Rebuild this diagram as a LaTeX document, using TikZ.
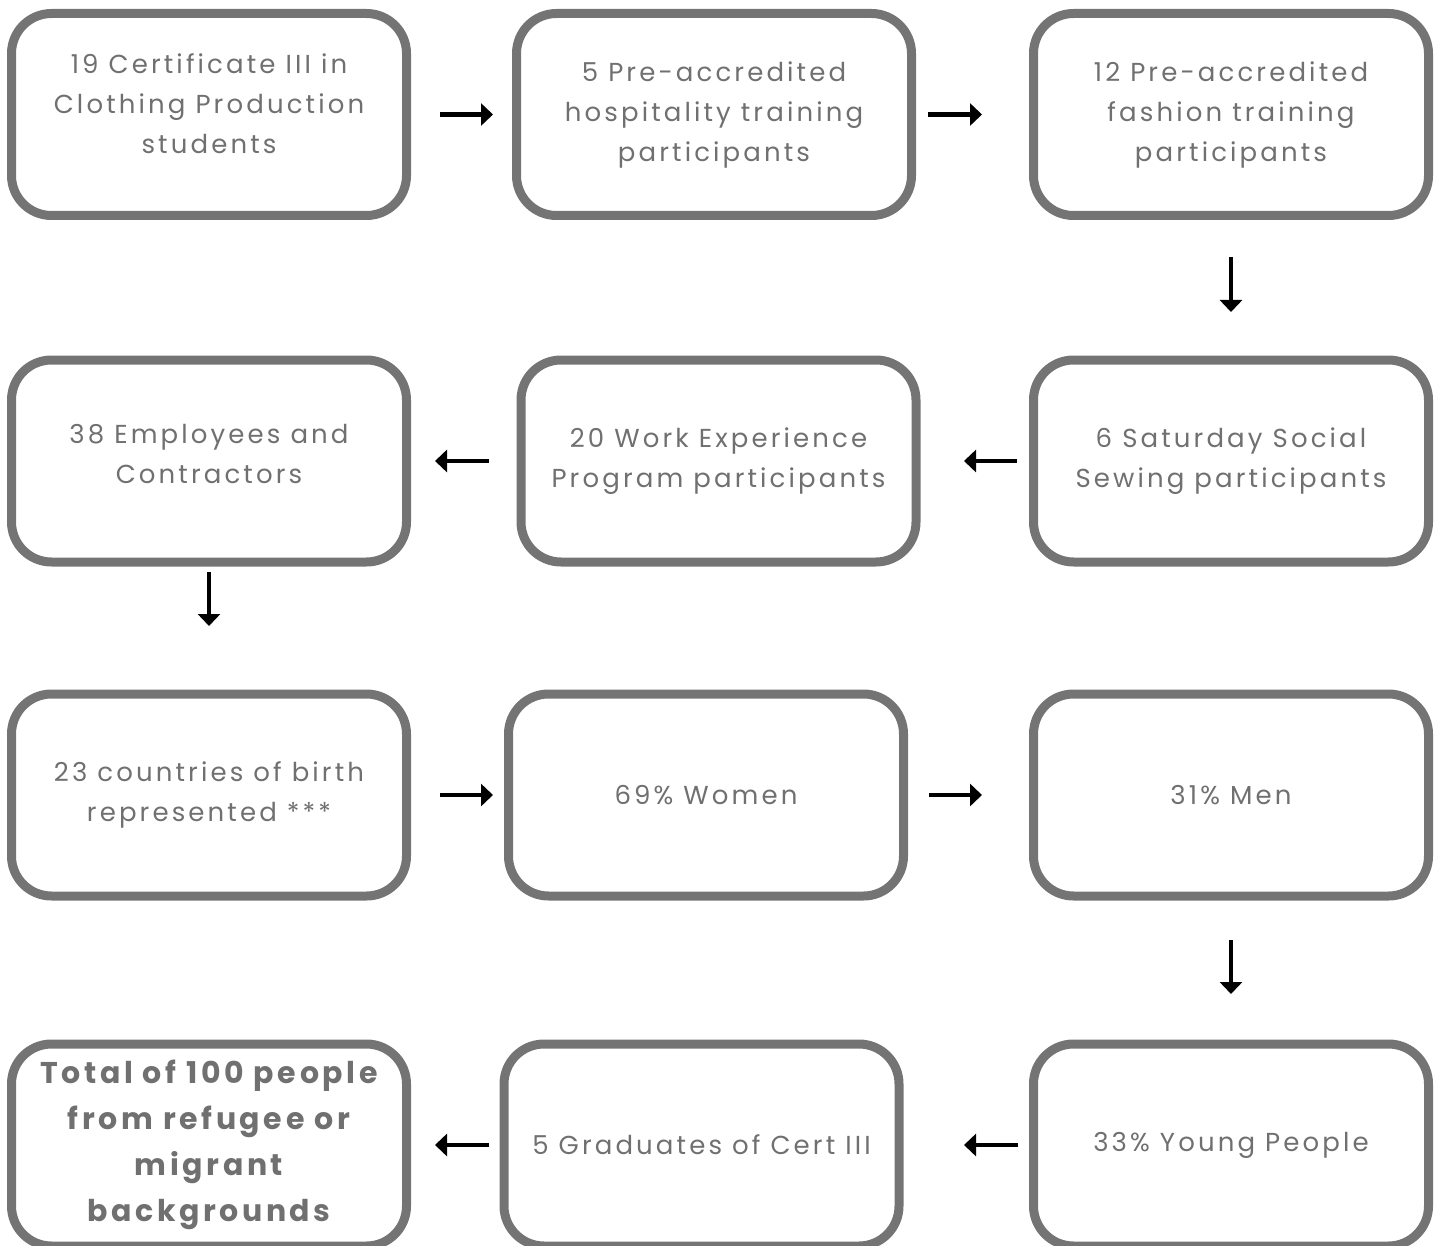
\documentclass[tikz,border=0pt]{standalone}
\usepackage{fontspec}
\setmainfont[LetterSpace=12]{Poppins}
\usepackage{tikz}
\usetikzlibrary{arrows.meta}
\definecolor{boxgray}{RGB}{116,116,116}
\definecolor{txtgray}{RGB}{112,112,112}

\begin{document}
\begin{tikzpicture}[x=0.5pt,y=-0.5pt]
\tikzstyle{stat}=[rectangle,rounded corners=20pt,draw=boxgray,line width=4.5pt,minimum width=197.5pt,minimum height=101pt,inner sep=0pt,align=center,text=txtgray,font=\fontsize{13}{20}\selectfont]
\tikzstyle{flow}=[draw=black,line width=2.25pt,-{Triangle[length=6pt,width=11pt]}]
\useasboundingbox (0,0) rectangle (1446,1246);
% first row
\node[stat] (1) at (209,114.5) {19 Certificate III in\\Clothing Production\\students\\[-9pt]};
\node[stat] (2) at (714,114.5) {5 Pre-accredited\\hospitality training\\participants};
\node[stat] (3) at (1231,114.5) {12 Pre-accredited\\fashion training\\participants};
% second row
\node[stat] (4) at (209,461) {38 Employees and\\Contractors\\[-13pt]};
\node[stat] (5) at (718.5,461) {20 Work Experience\\Program participants};
\node[stat] (6) at (1231,461) {6 Saturday Social\\Sewing participants};
% third row
\node[stat] (7) at (209,795) {23 countries of birth\\represented ***};
\node[stat] (8) at (706,795) {69\% Women};
\node[stat] (9) at (1231,795) {31\% Men};
% last row
\node[stat,font=\fontsize{15}{23}\selectfont\bfseries] (10) at (209,1145) {Total of 100 people\\from refugee or\\migrant\\backgrounds};
\node[stat] (11) at (701.5,1145) {5 Graduates of Cert III};
\node[stat] (12) at (1231,1145) {33\% Young People};
\draw[flow,shorten <=14.5pt,shorten >=9.5pt] (1) -- (2);
\draw[flow,shorten <=6pt,shorten >=23.5pt] (2) -- (3);
\draw[flow,shorten <=18.5pt,shorten >=21.75pt] (3) -- (6);
\draw[flow,shorten <=6pt,shorten >=21.75pt] (6) -- (5);
\draw[flow,shorten <=13.75pt,shorten >=12pt] (5) -- (4);
\draw[flow,shorten <=2.75pt,shorten >=31.75pt] (4) -- (7);
\draw[flow,shorten <=14.5pt,shorten >=5.5pt] (7) -- (8);
\draw[flow,shorten <=10.5pt,shorten >=23.5pt] (8) -- (9);
\draw[flow,shorten <=19.75pt,shorten >=22.75pt] (9) -- (12);
\draw[flow,shorten <=5.5pt,shorten >=30.25pt] (12) -- (11);
\draw[flow,shorten <=5.25pt,shorten >=12pt] (11) -- (10);
\end{tikzpicture}
\end{document}
